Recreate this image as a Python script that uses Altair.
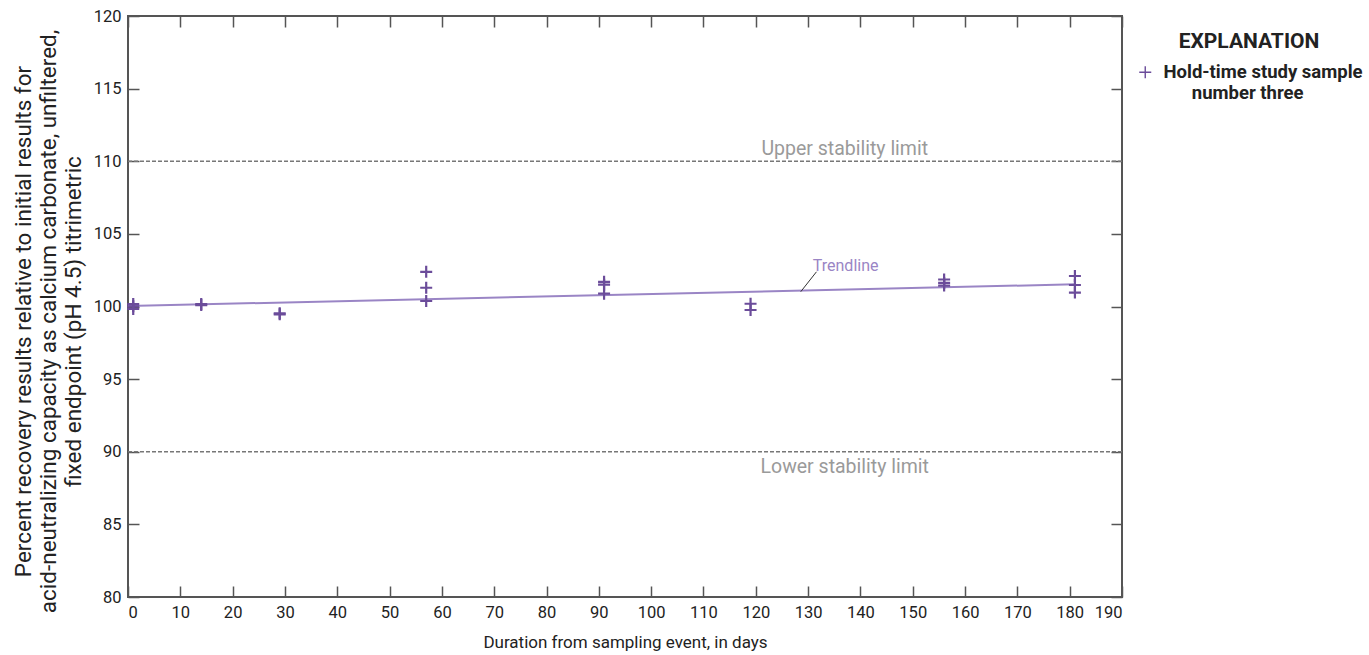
import altair as alt
import pandas as pd

FONT = "Roboto"

# ---- data ----
days = [1, 1, 1, 14, 14, 29, 29, 57, 57, 57, 91, 91, 91, 119, 119, 156, 156, 156, 181, 181, 181]
recovery = [100.17, 100.01, 99.83, 100.17, 100.1, 99.53, 99.46, 102.39, 101.29, 100.38,
            101.7, 101.5, 100.88, 100.19, 99.76, 101.86, 101.62, 101.44, 102.1, 101.48, 100.96]
series_name = "Hold-time study sample number three"

trend_days = [0, 181]
trend_values = [100.03, 101.53]

limit_values = [110, 90]
limit_labels = ["Upper stability limit", "Lower stability limit"]
limit_label_day = 137

trend_label_day = [130.9]
trend_label_value = [102.46]
leader_days = [128.6, 131.6]
leader_values = [101.02, 102.39]

x_ticks = list(range(0, 191, 10))
y_ticks = list(range(80, 121, 5))

PLUS = "M-1,0H1M0,-1V1"

pts = pd.DataFrame({"day": days, "value": recovery, "series": [series_name] * len(days)})
trend = pd.DataFrame({"day": trend_days, "value": trend_values})
limits = pd.DataFrame({"value": limit_values, "label": limit_labels,
                       "day": [limit_label_day] * 2})
tlabel = pd.DataFrame({"day": trend_label_day, "value": trend_label_value, "label": ["Trendline"]})
leader = pd.DataFrame({"day": leader_days, "value": leader_values})

xs = alt.Scale(domain=[0, 190], nice=False, zero=False)
ys = alt.Scale(domain=[80, 120], nice=False, zero=False)

axis_common = dict(tickColor="#555", tickWidth=1.5, grid=False, domain=False,
                   labelFont=FONT, labelFontSize=16.5, labelColor="#222")

x_bottom = alt.Axis(orient="bottom", values=x_ticks, offset=-11, tickSize=11, labelPadding=7,
                    title="Duration from sampling event, in days", titleFont=FONT,
                    titleFontSize=17, titleFontWeight="normal", titleColor="#222",
                    titleY=61, titleBaseline="alphabetic", **axis_common)
y_left = alt.Axis(orient="left", values=y_ticks, offset=-11, tickSize=11, labelPadding=7,
                  title=["Percent recovery results relative to initial results for",
                         "acid-neutralizing capacity as calcium carbonate, unfiltered,",
                         "fixed endpoint (pH 4.5) titrimetric"],
                  titleFont=FONT, titleFontSize=22.5, titleFontWeight="normal", titleColor="#222",
                  titleX=-109, titleY=305, titleAngle=270, titleAlign="center",
                  titleBaseline="alphabetic", titleLineHeight=25, **axis_common)
x_top = alt.Axis(orient="top", values=x_ticks, offset=-11, tickSize=11, labels=False,
                 title=None, tickColor="#555", tickWidth=1.5, grid=False, domain=False)
y_right = alt.Axis(orient="right", values=y_ticks, offset=-11, tickSize=11, labels=False,
                   title=None, tickColor="#555", tickWidth=1.5, grid=False, domain=False)

points = alt.Chart(pts).mark_point(shape=PLUS, size=144, strokeWidth=2.2, opacity=1,
                                   filled=False).encode(
    x=alt.X("day:Q", scale=xs, axis=x_bottom),
    y=alt.Y("value:Q", scale=ys, axis=y_left),
    color=alt.Color("series:N", scale=alt.Scale(range=["#6b4c9a"]),
                    legend=alt.Legend(
                        title="EXPLANATION", orient="none", legendX=1008, legendY=15,
                        titleFont=FONT, titleFontSize=21, titleFontWeight="bold",
                        titleColor="#222", titleAnchor="middle", titlePadding=11,
                        labelFont=FONT, labelFontSize=18.5, labelFontWeight="bold",
                        labelColor="#222", labelBaseline="middle", labelLimit=0,
                        labelExpr="['Hold-time study sample', '\u200b\u2002\u2002\u2002number three']",
                        symbolType=PLUS, symbolSize=144, symbolStrokeWidth=1.4,
                        symbolStrokeColor="#8a6fb8", labelOffset=9, padding=0)),
)

trendline = alt.Chart(trend).mark_line(color="#9a85c5", strokeWidth=2).encode(
    x=alt.X("day:Q", scale=xs, axis=x_top),
    y=alt.Y("value:Q", scale=ys, axis=y_right),
)

rules = alt.Chart(limits).mark_rule(color="#777", strokeDash=[4, 2], strokeWidth=1.5).encode(
    y=alt.Y("value:Q", scale=ys, axis=None),
)

upper_text = alt.Chart(limits).transform_filter("datum.value > 100").mark_text(
    font=FONT, fontSize=19.5, color="#9a9a9a", align="center", baseline="alphabetic", dy=-6
).encode(
    x=alt.X("day:Q", scale=xs, axis=None),
    y=alt.Y("value:Q", scale=ys, axis=None),
    text="label:N",
)
lower_text = alt.Chart(limits).transform_filter("datum.value < 100").mark_text(
    font=FONT, fontSize=19.5, color="#9a9a9a", align="center", baseline="top", dy=6
).encode(
    x=alt.X("day:Q", scale=xs, axis=None),
    y=alt.Y("value:Q", scale=ys, axis=None),
    text="label:N",
)

leader_line = alt.Chart(leader).mark_line(color="#333", strokeWidth=1).encode(
    x=alt.X("day:Q", scale=xs, axis=None),
    y=alt.Y("value:Q", scale=ys, axis=None),
)
trend_text = alt.Chart(tlabel).mark_text(
    font=FONT, fontSize=16, color="#9a85c5", align="left", baseline="alphabetic"
).encode(
    x=alt.X("day:Q", scale=xs, axis=None),
    y=alt.Y("value:Q", scale=ys, axis=None),
    text="label:N",
)

chart = alt.layer(
    rules, upper_text, lower_text, trendline, leader_line, trend_text, points
).resolve_axis(x="independent", y="independent").properties(
    width=994, height=581,
    autosize=alt.AutoSizeParams(type="none"),
    padding={"left": 128, "top": 16, "right": 247, "bottom": 58},
).configure_view(stroke="#555", strokeWidth=2)

chart.save("out.html", embed_options={"renderer": "svg", "actions": False})
